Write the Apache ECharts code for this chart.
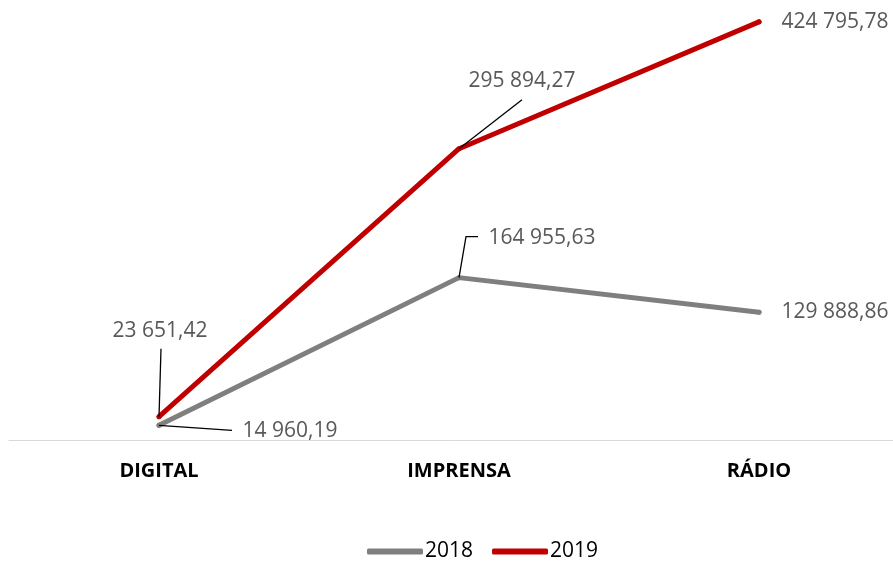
<!DOCTYPE html>
<html lang="pt">
<head>
    <meta charset="UTF-8">
    <title>Investimento por meio</title>
    <style>
        html, body { margin: 0; padding: 0; background: #fff; }
        #chart { width: 893px; height: 561px; }
    </style>
</head>
<body>
<script src="https://cdn.jsdelivr.net/npm/echarts@6/dist/echarts.min.js"></script>
<div id="chart"></div>
<script type="text/javascript">

// dados
var categorias = ['DIGITAL', 'IMPRENSA', 'RÁDIO'];
var anos = ['2018', '2019'];
var valores2018 = [14960.19, 164955.63, 129888.86];
var valores2019 = [23651.42, 295894.27, 424795.78];

// deslocamento dos rótulos (série, ponto) -> [dx, dy]
var desloc = [
    [[76, 6], [22, -40], [15, 0]],
    [[-54, -86], [2, -68], [15, 0]]
];
// linhas de chamada, em px relativos ao ponto (null = sem linha)
var chamada = [
    [[[0, 0], [73, 5]], [[0, 0], [7, -41], [19, -41]], null],
    [[[0, 0], [2, -68]], [[0, 0], [63, -49]], null]
];

function formata(v) {
    var p = v.toFixed(2).split('.');
    return p[0].replace(/\B(?=(\d{3})+(?!\d))/g, ' ') + ',' + p[1];
}

var myChart = echarts.init(document.getElementById('chart'));

function serie(idx, dados, cor) {
    return {
        name: anos[idx],
        type: 'line',
        data: dados,
        symbol: 'circle',
        symbolSize: 5,
        itemStyle: { color: cor },
        lineStyle: { color: cor, width: 5, cap: 'round', join: 'round' },
        label: {
            show: true,
            position: 'right',
            distance: 5,
            fontFamily: 'Open Sans',
            fontSize: 21,
            color: '#595959',
            formatter: function (p) { return formata(p.value); }
        }
    };
}

myChart.setOption({
    animation: false,
    grid: { left: 9, top: 0, width: 900, height: 440, outerBoundsMode: 'none' },
    legend: {
        left: 362,
        top: 536,
        itemWidth: 56,
        itemHeight: 6,
        itemGap: 19,
        icon: 'roundRect',
        textStyle: { fontFamily: 'Open Sans', fontSize: 21, color: '#000', padding: [0, 0, 0, -3] },
        data: anos
    },
    xAxis: {
        type: 'category',
        data: categorias,
        axisLine: { lineStyle: { color: '#d9d9d9', width: 1 } },
        axisTick: { show: false },
        axisLabel: {
            margin: 21,
            fontFamily: 'Open Sans',
            fontWeight: 'bold',
            fontSize: 20,
            color: '#000'
        }
    },
    yAxis: {
        type: 'value',
        min: 0,
        max: 447000,
        show: false,
        splitLine: { show: false }
    },
    labelLayout: function (params) {
        var d = desloc[params.seriesIndex][params.dataIndex];
        return { dx: d[0], dy: d[1] };
    },
    series: [
        serie(0, valores2018, '#7f7f7f'),
        serie(1, valores2019, '#c00000')
    ]
});

// linhas de chamada a partir da posição de cada ponto
var series = [valores2018, valores2019];
var linhas = [];
series.forEach(function (vals, s) {
    vals.forEach(function (v, i) {
        var c = chamada[s][i];
        if (!c) return;
        var p = myChart.convertToPixel({ seriesIndex: s }, [i, v]);
        linhas.push({
            type: 'polyline',
            z: 100,
            silent: true,
            shape: { points: c.map(function (o) { return [p[0] + o[0], p[1] + o[1]]; }) },
            style: { stroke: '#000', lineWidth: 1.3, fill: null }
        });
    });
});
myChart.setOption({ graphic: linhas });

</script>
</body>
</html>
